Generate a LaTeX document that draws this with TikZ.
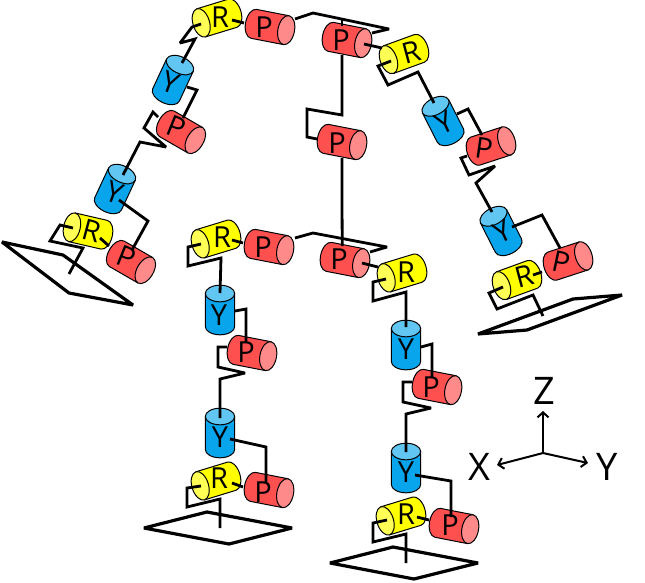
\documentclass[tikz,border=0pt]{standalone}
\usepackage{fontspec}
\setmainfont{Open Sans}
\usetikzlibrary{arrows.meta}
\pgfdeclarelayer{cylinders}
\pgfdeclarelayer{letters}
\pgfsetlayers{cylinders,main,letters}
\definecolor{pbody}{HTML}{FF5050}
\definecolor{pcap}{HTML}{FF8A8A}
\definecolor{rbody}{HTML}{FFFF00}
\definecolor{rcap}{HTML}{FFFF55}
\definecolor{ybody}{HTML}{08A5EC}
\definecolor{ycap}{HTML}{62C6F2}
\tikzset{
  cylline/.style={draw=black,line width=1pt,line join=round},
  linkline/.style={draw=black,line width=2.8pt,line join=miter,miter limit=3},
  plateline/.style={draw=black,line width=3.2pt,line join=bevel},
  axisone/.style={draw=black,line width=2pt,-{Straight Barb[length=5pt,width=11pt]}},
  jointletter/.style={inner sep=0pt,font=\fontsize{29}{29}\selectfont},
  axisletter/.style={inner sep=0pt,font=\fontsize{38}{38}\selectfont},
}
% #1 name, #2 #3 centre, #4 direction of the cap, #5 colour prefix, #6 #7 letter position, #8 letter rotation, #9 letter
\newcommand\joint[9]{%
  \begin{pgfonlayer}{cylinders}
  \begin{scope}[shift={(#2,-#3)},rotate=#4]
    \path[cylline,fill=#5body] (-16.5,14.7) -- (16.5,14.7) -- (16.5,-14.7) -- (-16.5,-14.7)
      arc[start angle=270,end angle=90,x radius=8.3pt,y radius=14.7pt] -- cycle;
    \path[cylline,fill=#5cap] (16.5,0) ellipse[x radius=8.3pt,y radius=14.7pt];
  \end{scope}
  \end{pgfonlayer}
  \begin{pgfonlayer}{letters}
    \node[jointletter,rotate=#8] (#1) at (#6,-#7) {#9};
  \end{pgfonlayer}}
% #1 name, #2 #3 first end, #4 bends, #5 #6 last end
\newcommand\lnk[6]{%
  \coordinate (#1a) at (#2,-#3);
  \coordinate (#1b) at (#5,-#6);
  \path[linkline] (#1a) #4 -- (#1b);}
\begin{document}
\begin{tikzpicture}[x=1pt,y=1pt]
\useasboundingbox (0,0) rectangle (645,-582);
% yellow joints
\joint{Rarmlefttop}{217}{18}{197}{r}{220}{17}{0}{R}
\joint{Rarmleftbot}{88}{231}{167}{r}{92}{231}{-15}{R}
\joint{Rarmrighttop}{404}{54}{200}{r}{411}{52}{15}{R}
\joint{Rarmrightbot}{517}{280}{200}{r}{524}{276}{15}{R}
\joint{Rlegltop}{216}{239}{197}{r}{222}{237}{0}{R}
\joint{Rleglbot}{216}{481}{197}{r}{219}{478}{0}{R}
\joint{Rlegrtop}{402}{273}{197}{r}{406}{272}{0}{R}
\joint{Rlegrbot}{401}{516}{197}{r}{406}{514}{0}{R}
% blue joints
\joint{Yal1}{173}{80}{65}{y}{171}{83}{-20}{Y}
\joint{Yal2}{115}{189}{65}{y}{115}{193}{-20}{Y}
\joint{Yar1}{443}{121}{117}{y}{444}{123}{25}{Y}
\joint{Yar2}{501}{231}{117}{y}{502}{232}{25}{Y}
\joint{Yll1}{220}{310}{90}{y}{219}{315}{0}{Y}
\joint{Yll2}{220}{433}{90}{y}{220}{437}{0}{Y}
\joint{Ylr1}{406}{345}{90}{y}{406}{349}{0}{Y}
\joint{Ylr2}{406}{468}{90}{y}{406}{472}{0}{Y}
% red joints
\joint{Pal0}{270}{27}{-11}{p}{264}{27}{0}{P}
\joint{Pal1}{181}{132}{-30}{p}{176}{127}{-22}{P}
\joint{Pal2}{131}{262}{-30}{p}{126}{257}{-22}{P}
\joint{Par0}{347}{40}{-11}{p}{341}{40}{0}{P}
\joint{Pwaist}{342}{142}{-11}{p}{337}{143}{0}{P}
\joint{Par1}{491}{146}{18}{p}{484}{148}{-8}{P}
\joint{Par2}{568}{261}{18}{p}{561}{262}{-12}{P}
\joint{Pll0}{269}{247}{-11}{p}{263}{247}{0}{P}
\joint{Pll1}{252}{353}{-11}{p}{246}{352}{0}{P}
\joint{Pll2}{269}{490}{-11}{p}{263}{492}{0}{P}
\joint{Plr0}{345}{260}{-11}{p}{339}{259}{0}{P}
\joint{Plr1}{437}{387}{-11}{p}{431}{387}{0}{P}
\joint{Plr2}{454}{526}{-11}{p}{450}{525}{0}{P}
% torso
\lnk{barA}{295}{19}{-- (313,-13) -- (389,-29)}{372}{33}
\lnk{barAdrop}{342}{19}{}{342}{26}
\lnk{spineA}{342}{55}{-- (342,-115) -- (307,-109) -- (307,-137)}{317}{139}
\lnk{spineB}{342}{158}{-- (342,-200) -- (342.2,-240)}{342.2}{246}
\lnk{barB}{295}{238}{-- (313,-233) -- (387,-247)}{370}{252}
% left arm
\lnk{a1}{232}{20}{}{244}{23}
\lnk{a2}{201}{24}{-- (192,-27) -- (180,-43) -- (195,-39)}{182}{63}
\lnk{a3}{187}{87}{-- (197,-90)}{183}{118}
\lnk{a4}{158}{117}{-- (153,-112) -- (144,-128) -- (166,-147) -- (140,-142)}{123}{175}
\lnk{a5}{119}{200}{-- (148,-221)}{132}{250}
\lnk{a6}{100}{238}{}{109}{246}
\lnk{a7}{73}{228}{-- (60,-225) -- (50,-241) -- (83,-248)}{69}{274}
% right arm
\lnk{b1}{364}{44}{}{382}{48}
\lnk{b2}{391}{61}{-- (378,-66) -- (388,-85) -- (418,-72)}{434}{103}
\lnk{b3}{457}{114}{-- (468,-109)}{482}{135}
\lnk{b4}{467}{156}{-- (461,-158) -- (469,-175) -- (495,-166) -- (476,-183)}{492}{212}
\lnk{b5}{512}{227}{-- (542,-215)}{560}{248}
\lnk{b6}{542}{272}{}{533}{275}
\lnk{b7}{503}{287}{-- (489,-293) -- (497,-309) -- (533,-295)}{543}{316}
% left leg
\lnk{c1}{232}{240}{}{243}{243}
\lnk{c2}{201}{244}{-- (188,-247) -- (188,-266) -- (221,-258)}{220}{293}
\lnk{c3}{235}{311}{-- (246,-309)}{246}{342}
\lnk{c4}{227}{347}{-- (218,-347) -- (218,-367) -- (245,-373) -- (220,-379)}{220}{418}
\lnk{c5}{230}{439}{-- (266,-447)}{266}{482}
\lnk{c6}{232}{483}{}{243}{487}
\lnk{c7}{201}{486}{-- (187,-488) -- (187,-507) -- (220,-499)}{220}{528}
% right leg
\lnk{d1}{362}{263}{}{378}{267}
\lnk{d2}{386}{279}{-- (373,-282) -- (373,-301) -- (406,-292)}{406}{327}
\lnk{d3}{421}{347}{-- (432,-344)}{432}{377}
\lnk{d4}{412}{382}{-- (403,-382) -- (403,-402) -- (431,-408) -- (406,-414)}{406}{452}
\lnk{d5}{415}{475}{-- (451,-481)}{451}{517}
\lnk{d6}{417}{517}{}{429}{520}
\lnk{d7}{387}{520}{-- (373,-523) -- (373,-542) -- (406,-534)}{406}{563}
% foot plates
\path[plateline] (2,-242) -- (63,-255) -- (133,-305) -- (69,-293) -- cycle;
\path[plateline] (478,-334) -- (573,-299) -- (622,-295) -- (527,-330) -- cycle;
\path[plateline] (144,-528) -- (207,-512) -- (292,-528) -- (229,-544) -- cycle;
\path[plateline] (330,-563) -- (393,-547) -- (478,-563) -- (414,-579) -- cycle;
% axes
\node[axisletter] (zlab) at (544,-391) {Z};
\node[axisletter] (xlab) at (479,-467) {X};
\node[axisletter] (ylab) at (607,-467) {Y};
\coordinate (origin) at (543,-453);
\coordinate (ztip) at (543,-411);
\coordinate (xtip) at (497,-465);
\coordinate (ytip) at (588,-463);
\path[axisone] (origin) -- (ztip);
\path[axisone] (origin) -- (xtip);
\path[axisone] (origin) -- (ytip);
\end{tikzpicture}
\end{document}
